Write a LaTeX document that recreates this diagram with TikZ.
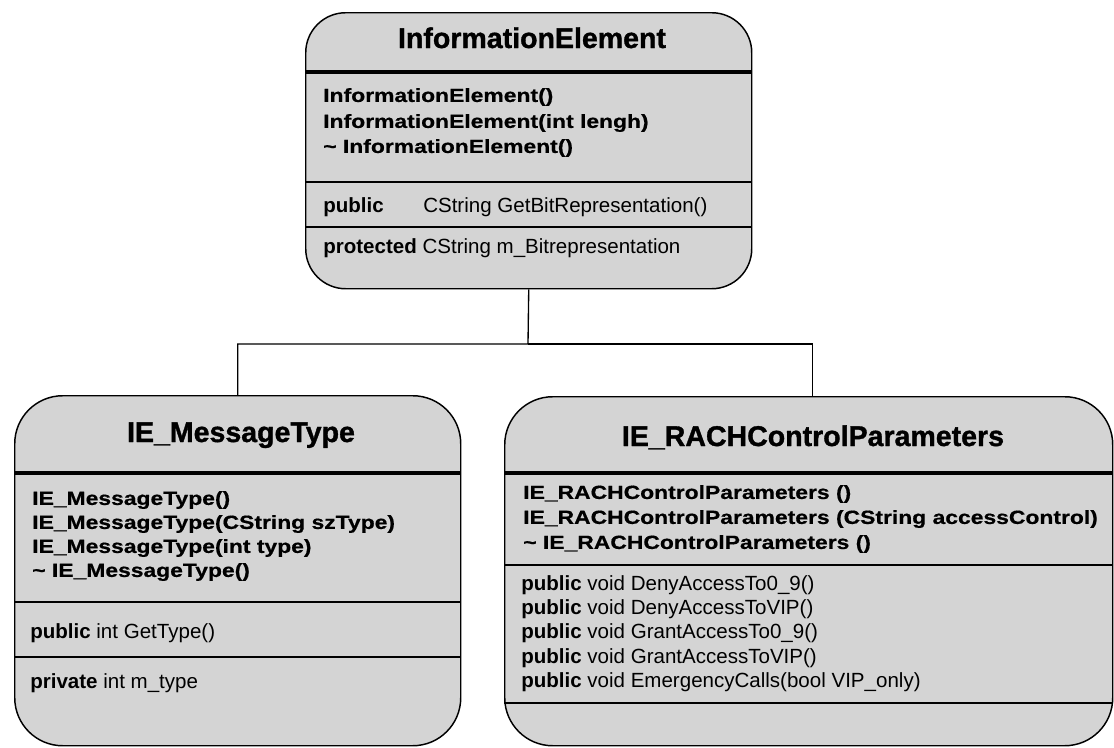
\documentclass[tikz,border=0pt]{standalone}
\usepackage{fontspec}
\setmainfont{Liberation Sans}
\newfontfamily\ctorfont[FakeStretch=1.2, FakeBold=0.6]{Liberation Sans}
\newfontfamily\namefont[FakeBold=1.2]{Liberation Sans}
\definecolor{classgray}{RGB}{212,212,212}
\tikzset{
  classbox/.style={draw, line width=1.1pt, fill=classgray, rounded corners=#1,
    anchor=north west, inner sep=0pt},
  classbox/.default=36pt,
  headrule/.style={line width=3pt},
  rule/.style={line width=1.1pt},
  link/.style={line width=1pt},
  classname/.style={anchor=base, inner sep=0pt, font=\namefont\bfseries\fontsize{21.4}{26}\selectfont},
  ctor/.style={anchor=west, inner sep=0pt, font=\ctorfont\bfseries\fontsize{14.3}{17}\selectfont},
  member/.style={anchor=west, inner sep=0pt, font=\fontsize{15.4}{18}\selectfont}
}

\begin{document}
\begin{tikzpicture}[x=0.75pt, y=-0.75pt]
\useasboundingbox (0,0) rectangle (1114,747);

% Classes
\node[classbox=30pt, minimum width=334.5pt, minimum height=207pt] (ie) at (305,12) {};
\node[classbox, minimum width=334.5pt, minimum height=262.5pt] (msg) at (14,395) {};
\node[classbox, minimum width=456pt, minimum height=261.75pt] (rach) at (504,396) {};

% Compartments
\draw[headrule] (305,72) -- (751,72);
\draw[rule] (305,182) -- (751,182);
\draw[rule] (305,227) -- (751,227);
\draw[headrule] (14,473) -- (460,473);
\draw[rule] (14,602) -- (460,602);
\draw[rule] (14,657) -- (460,657);
\draw[headrule] (504,473) -- (1112,473);
\draw[rule] (504,565) -- (1112,565);
\draw[rule] (504,703) -- (1112,703);

% InformationElement
\node[classname] (ie-name) at (532,48) {InformationElement};
\node[ctor] (ie-c1) at (323,97) {InformationElement()};
\node[ctor] (ie-c2) at (323,123) {InformationElement(int lengh)};
\node[ctor] (ie-c3) at (323,148) {\textasciitilde{} InformationElement()};
\node[member] (ie-op) at (323,207) {\makebox[75pt][l]{\textbf{public}}CString GetBitRepresentation()};
\node[member] (ie-attr) at (323,248) {\textbf{protected} CString m\_Bitrepresentation};

% IE_MessageType
\node[classname] (msg-name) at (241,442) {IE\_MessageType};
\node[ctor] (msg-c1) at (32,500) {IE\_MessageType()};
\node[ctor] (msg-c2) at (32,524) {IE\_MessageType(CString szType)};
\node[ctor] (msg-c3) at (32,548) {IE\_MessageType(int type)};
\node[ctor] (msg-c4) at (32,572) {\textasciitilde{} IE\_MessageType()};
\node[member] (msg-op) at (30,633) {\textbf{public} int GetType()};
\node[member] (msg-attr) at (30,683) {\textbf{private} int m\_type};

% IE_RACHControlParameters
\node[classname] (rach-name) at (813,446) {IE\_RACHControlParameters};
\node[ctor] (rach-c1) at (523,494) {IE\_RACHControlParameters ()};
\node[ctor] (rach-c2) at (523,519) {IE\_RACHControlParameters (CString accessControl)};
\node[ctor] (rach-c3) at (523,544) {\textasciitilde{} IE\_RACHControlParameters ()};
\node[member] (rach-op1) at (521,585) {\textbf{public} void DenyAccessTo0\_9()};
\node[member] (rach-op2) at (521,609) {\textbf{public} void DenyAccessToVIP()};
\node[member] (rach-op3) at (521,633) {\textbf{public} void GrantAccessTo0\_9()};
\node[member] (rach-op4) at (521,658) {\textbf{public} void GrantAccessToVIP()};
\node[member] (rach-op5) at (521,682) {\textbf{public} void EmergencyCalls(bool VIP\_only)};

% Inheritance
\coordinate (fork) at (528,344);
\draw[link] (ie.south) -- (fork) -| (msg.north);
\draw[link] (fork) -| ([xshift=3pt]rach.north);
\end{tikzpicture}
\end{document}
